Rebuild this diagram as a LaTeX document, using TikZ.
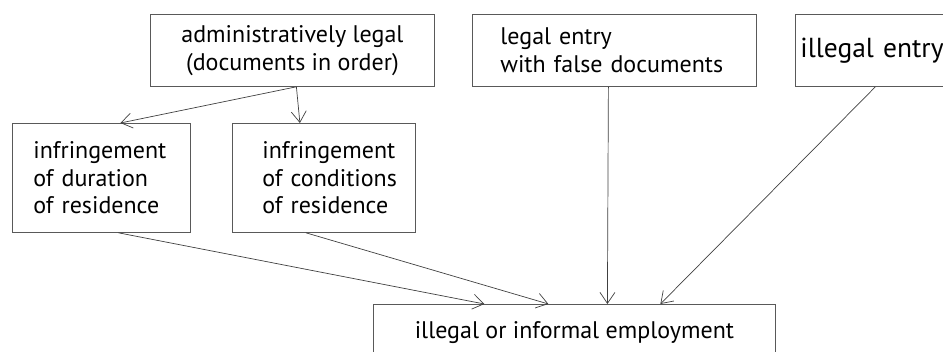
\documentclass[tikz,border=0pt]{standalone}
\usepackage{fontspec}
\setmainfont{PT Sans}
\usetikzlibrary{arrows.meta,calc}

\begin{document}
\begin{tikzpicture}[x=1pt,y=-1pt,
  box/.style={draw=black!65,line width=0.8pt,anchor=north west,inner sep=0pt,
    font=\fontsize{24}{27.5}\selectfont},
  link/.style={draw=black!75,line width=0.7pt,-{Straight Barb[length=11pt,width=15pt]}}]
  \useasboundingbox (0,0) rectangle (943,352);
  \clip (0,0) rectangle (943,352);

  % boxes on top
  \node[box,minimum width=284,minimum height=72,align=center] (admin) at (150,14)
    {administratively legal\\(documents in order)};
  \node[box,minimum width=284,minimum height=72,text width=284,align=left] (false) at (472,14)
    {\hspace*{28pt}legal entry\\\hspace*{28pt}with false documents\\[5pt]};
  \node[box,minimum width=170,minimum height=72,text width=170,align=left,
    font=\fontsize{27.5}{30}\selectfont] (illegal) at (795,14)
    {\hspace*{5pt}illegal entry\\[10pt]};

  % middle boxes
  \node[box,minimum width=178,minimum height=109,text width=178,align=left] (duration) at (12,123)
    {\hspace*{21pt}infringement\\\hspace*{21pt}of duration\\\hspace*{21pt}of residence};
  \node[box,minimum width=183,minimum height=109,text width=183,align=left] (conditions) at (232,123)
    {\hspace*{30pt}infringement\\\hspace*{30pt}of conditions\\\hspace*{30pt}of residence};

  % bottom box
  \node[box,minimum width=402,minimum height=56,align=center] (work) at (373,304)
    {illegal or informal employment};

  \draw[link] ([xshift=4]admin.south) -- ([xshift=19]duration.north);
  \draw[link] ([xshift=4]admin.south) -- ([xshift=-24]conditions.north);
  \draw[link] ([xshift=17]duration.south) -- ([xshift=-90]work.north);
  \draw[link] ([xshift=-18]conditions.south) -- ([xshift=-26]work.north);
  \draw[link] ([xshift=-6]false.south) -- ([xshift=33]work.north);
  \draw[link] ([xshift=-5]illegal.south) -- ([xshift=86]work.north);
\end{tikzpicture}
\end{document}
